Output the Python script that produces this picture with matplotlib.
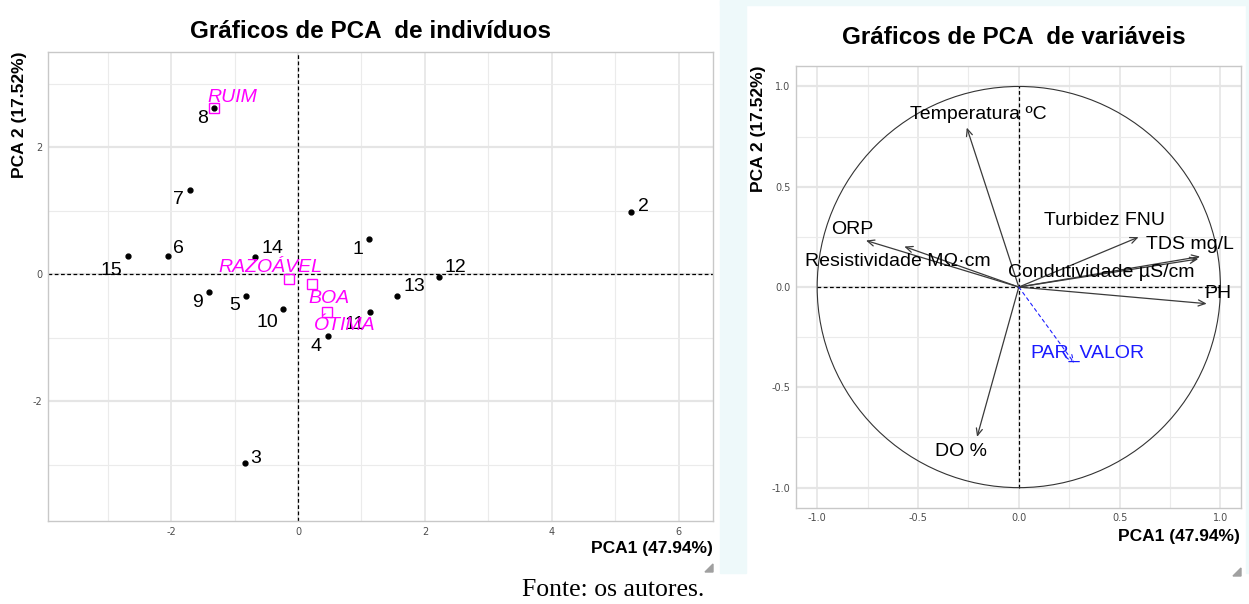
import matplotlib
matplotlib.use("Agg")
import numpy as np
import matplotlib.pyplot as plt
from matplotlib.patches import Rectangle, Polygon, Circle

plt.rcParams['axes.unicode_minus'] = False

# individuals (PCA scores)
ind_ids = ['1', '2', '3', '4', '5', '6', '7', '8', '9', '10', '11', '12', '13', '14', '15']
ind_x = [1.12, 5.25, -0.84, 0.48, -0.82, -2.05, -1.70, -1.32, -1.40, -0.23, 1.13, 2.22, 1.56, -0.68, -2.68]
ind_y = [0.55, 0.98, -2.98, -0.98, -0.34, 0.29, 1.33, 2.61, -0.28, -0.55, -0.60, -0.05, -0.35, 0.27, 0.28]
lab_x = [0.94, 5.44, -0.67, 0.29, -1.00, -1.88, -1.88, -1.51, -1.58, -0.49, 0.90, 2.48, 1.83, -0.41, -2.94]
lab_y = [0.39, 1.06, -2.90, -1.14, -0.49, 0.41, 1.18, 2.46, -0.44, -0.77, -0.80, 0.11, -0.20, 0.41, 0.06]

# group centroids (supplementary qualitative variable)
grp_names = ['RUIM', 'RAZOÁVEL', 'BOA', 'ÓTIMA']
grp_x = [-1.32, -0.14, 0.22, 0.45]
grp_y = [2.61, -0.08, -0.15, -0.59]
grp_lab_x = [-1.03, -0.43, 0.49, 0.73]
grp_lab_y = [2.78, 0.10, -0.38, -0.81]

# variables (loadings)
var_names = ['Temperatura ºC', 'ORP', 'Resistividade MΩ·cm', 'Turbidez FNU',
             'TDS mg/L', 'Condutividade µS/cm', 'PH', 'DO %']
var_x = [-0.258, -0.758, -0.568, 0.594, 0.899, 0.89, 0.932, -0.207]
var_y = [0.795, 0.232, 0.202, 0.249, 0.152, 0.14, -0.083, -0.747]
var_lab_x = [-0.20, -0.825, -0.60, 0.426, 0.849, 0.409, 0.99, -0.286]
var_lab_y = [0.86, 0.285, 0.128, 0.33, 0.21, 0.073, -0.03, -0.82]

sup_name = 'PAR_VALOR'
sup_x, sup_y = 0.275, -0.379
sup_lab_x, sup_lab_y = 0.34, -0.33

W, H = 1249, 604
fig = plt.figure(figsize=(W / 100, H / 100), dpi=100)
fig.patch.set_facecolor('white')

def fbox(x0, y0, x1, y1):
    return [x0 / W, 1 - y1 / H, (x1 - x0) / W, (y1 - y0) / H]

# cyan frame around right image
fig.patches.append(Rectangle((720 / W, 1 - 573 / H), 26 / W, 573 / H,
                             transform=fig.transFigure, color='#EEF9FA', zorder=0))
fig.patches.append(Rectangle((1246 / W, 1 - 573 / H), 3 / W, 573 / H,
                             transform=fig.transFigure, color='#EEF9FA', zorder=0))
fig.patches.append(Rectangle((720 / W, 1 - 5 / H), 529 / W, 5 / H,
                             transform=fig.transFigure, color='#EEF9FA', zorder=0))


def style_axes(ax):
    ax.set_facecolor('white')
    for s in ax.spines.values():
        s.set_color('#C8C8C8')
        s.set_linewidth(1.0)
    ax.tick_params(length=0, labelsize=7, colors='#4D4D4D', pad=4)
    ax.set_axisbelow(True)


def grid(ax, major_x, minor_x, major_y, minor_y):
    for v in minor_x:
        ax.axvline(v, color='#EBEBEB', lw=0.8, zorder=0)
    for v in major_x:
        ax.axvline(v, color='#E5E5E5', lw=1.2, zorder=0)
    for v in minor_y:
        ax.axhline(v, color='#EBEBEB', lw=0.8, zorder=0)
    for v in major_y:
        ax.axhline(v, color='#E5E5E5', lw=1.6, zorder=0)


# ---------- left: individuals ----------
ax1 = fig.add_axes(fbox(48, 52, 713, 521))
style_axes(ax1)
ax1.set_xlim(-3.94, 6.54)
ax1.set_ylim(-3.89, 3.50)
ax1.set_xticks([-2, 0, 2, 4, 6])
ax1.set_yticks([-2, 0, 2])
grid(ax1, [-2, 0, 2, 4, 6], [-3, -1, 1, 3, 5], [-2, 0, 2], [-3, -1, 1, 3])
ax1.axhline(0, color='black', lw=0.9, ls=(0, (3, 2)), zorder=1)
ax1.axvline(0, color='black', lw=0.9, ls=(0, (3, 2)), zorder=1)

ax1.plot(ind_x, ind_y, 'o', color='black', ms=3.5, zorder=3)
for i, t in enumerate(ind_ids):
    ax1.text(lab_x[i], lab_y[i], t, fontsize=14, color='black',
             ha='center', va='center', family='Liberation Sans', zorder=4)

ax1.plot(grp_x, grp_y, 's', mfc='none', mec='#FF00FF', mew=1.0, ms=6.5, zorder=3)
for i, t in enumerate(grp_names):
    ax1.text(grp_lab_x[i], grp_lab_y[i], t, fontsize=14, color='#FF00FF', style='italic',
             ha='center', va='center', family='Liberation Sans', zorder=4)

fig.text(370 / W, 1 - 32 / H, 'Gráficos de PCA  de indivíduos', fontsize=17.5, fontweight='bold',
         ha='center', va='center', family='Liberation Sans')
fig.text(20 / W, 1 - 52 / H, 'PCA 2 (17.52%)', fontsize=12.5, fontweight='bold',
         rotation=90, ha='center', va='top', family='Liberation Sans')
fig.text(713 / W, 1 - 549 / H, 'PCA1 (47.94%)', fontsize=12.5, fontweight='bold',
         ha='right', va='center', family='Liberation Sans')

# ---------- right: variables ----------
ax2 = fig.add_axes(fbox(796, 66, 1240.6, 507.7))
style_axes(ax2)
ax2.set_xlim(-1.105, 1.10)
ax2.set_ylim(-1.10, 1.102)
ax2.set_xticks([-1.0, -0.5, 0.0, 0.5, 1.0])
ax2.set_yticks([-1.0, -0.5, 0.0, 0.5, 1.0])
ax2.set_xticklabels(['-1.0', '-0.5', '0.0', '0.5', '1.0'])
ax2.set_yticklabels(['-1.0', '-0.5', '0.0', '0.5', '1.0'])
grid(ax2, [-1, -0.5, 0, 0.5, 1], [-0.75, -0.25, 0.25, 0.75],
     [-1, -0.5, 0, 0.5, 1], [-0.75, -0.25, 0.25, 0.75])
ax2.axhline(0, xmin=(-1 + 1.105) / 2.205, xmax=(1 + 1.105) / 2.205,
            color='black', lw=0.9, ls=(0, (3, 2)), zorder=1)
ax2.axvline(0, ymin=(-1 + 1.10) / 2.202, ymax=(1 + 1.10) / 2.202,
            color='black', lw=0.9, ls=(0, (3, 2)), zorder=1)
ax2.add_patch(Circle((0, 0), 1.0, fill=False, ec='#333333', lw=0.8, zorder=2))

for i, t in enumerate(var_names):
    ax2.annotate('', xy=(var_x[i], var_y[i]), xytext=(0, 0),
                 arrowprops=dict(arrowstyle='->,head_length=0.5,head_width=0.22',
                                 color='#3A3A3A', lw=0.9, shrinkA=0, shrinkB=0), zorder=3)
    ax2.text(var_lab_x[i], var_lab_y[i], t, fontsize=14, color='black',
             ha='center', va='center', family='Liberation Sans', zorder=4)

ax2.annotate('', xy=(sup_x, sup_y), xytext=(0, 0),
             arrowprops=dict(arrowstyle='->,head_length=0.5,head_width=0.22',
                             color='#2020FF', lw=0.8, ls=(0, (3, 3)), shrinkA=0, shrinkB=0), zorder=3)
ax2.text(sup_lab_x, sup_lab_y, sup_name, fontsize=14, color='#1A1AFF',
         ha='center', va='center', family='Liberation Sans', zorder=4)

fig.text(1014 / W, 1 - 38 / H, 'Gráficos de PCA  de variáveis', fontsize=17.5, fontweight='bold',
         ha='center', va='center', family='Liberation Sans')
fig.text(759 / W, 1 - 66 / H, 'PCA 2 (17.52%)', fontsize=12.5, fontweight='bold',
         rotation=90, ha='center', va='top', family='Liberation Sans')
fig.text(1239.6 / W, 1 - 536 / H, 'PCA1 (47.94%)', fontsize=12.5, fontweight='bold',
         ha='right', va='center', family='Liberation Sans')

# resize-handle triangles
for x0, y0 in [(713, 572), (1241, 576)]:
    tri = [((x0) / W, 1 - y0 / H), ((x0) / W, 1 - (y0 - 8) / H), ((x0 - 8) / W, 1 - y0 / H)]
    fig.patches.append(Polygon(tri, closed=True, transform=fig.transFigure, color='#A0A0A0'))

fig.text(613 / W, 1 - 590 / H, 'Fonte: os autores.', fontsize=18.5,
         ha='center', va='center', family='Liberation Serif')

fig.savefig('out.png', dpi=100)
